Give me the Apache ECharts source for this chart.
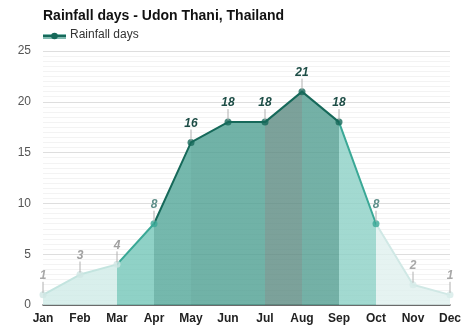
<!DOCTYPE html>
<html>
<head>
<meta charset="utf-8">
<script src="https://cdn.jsdelivr.net/npm/echarts@6/dist/echarts.min.js"></script>
<style>html,body{margin:0;padding:0;background:#fff}#c{width:474px;height:331px}</style>
</head>
<body>
<div id="c"></div>
<script>
const months = ['Jan','Feb','Mar','Apr','May','Jun','Jul','Aug','Sep','Oct','Nov','Dec'];
const rainfallDays = [1, 3, 4, 8, 16, 18, 18, 21, 18, 8, 2, 1];
const yTicks = [0, 5, 10, 15, 20, 25];

// styling palettes (per month)
const pointColors = ['#cfe6e3','#cfe6e3','#cfe6e3','#3aa896','#16695a','#16695a','#16695a','#16695a','#16695a','#3aa896','#d6ebe9','#d6ebe9'];
const labelColors = ['#a8a8a8','#a0a0a0','#a0a0a0','#5f8f8a','#1d4d46','#1d4d46','#1d4d46','#1d4d46','#1d4d46','#5f8f8a','#a8a8a8','#a8a8a8'];

const chart = echarts.init(document.getElementById('c'), null, {renderer:'canvas'});
const FONT = 'Arial, "Liberation Sans", sans-serif';

chart.setOption({
  animation: false,
  backgroundColor: '#fff',
  title: {
    text: 'Rainfall days - Udon Thani, Thailand',
    left: 43, top: 9, padding: 0,
    textStyle: {fontFamily: FONT, fontSize: 14, fontWeight: 'bold', color: '#111'}
  },
  graphic: [
    {type:'rect', left: 43, top: 34, shape:{width:23, height:5}, style:{fill:'#7fb9af'}},
    {type:'line', shape:{x1:43, y1:36, x2:66, y2:36}, style:{stroke:'#16695a', lineWidth:2}},
    {type:'circle', shape:{cx:54.5, cy:36, r:3.3}, style:{fill:'#16695a'}},
    {type:'text', left: 70, top: 29, style:{text:'Rainfall days', font:'12px ' + FONT, fill:'#333'}}
  ],
  grid: {left: 43, right: 24, top: 51, bottom: 26},
  xAxis: {
    type: 'category',
    data: months,
    boundaryGap: false,
    axisLine: {lineStyle: {color: '#444', width: 1.5}},
    axisTick: {show: false},
    axisLabel: {color: '#222', fontFamily: FONT, fontSize: 12, fontWeight: 'bold', margin: 8,
      interval: 0},
    splitLine: {show: false}
  },
  yAxis: {
    type: 'value',
    min: 0, max: 25, interval: 5,
    axisLine: {show: false},
    axisTick: {show: false},
    axisLabel: {color: '#555', fontFamily: FONT, fontSize: 12, margin: 12,
      formatter: v => yTicks.includes(v) ? String(v) : ''},
    splitLine: {lineStyle: {color: '#dedede', width: 1}},
    minorTick: {show: false, splitNumber: 10},
    minorSplitLine: {show: true, lineStyle: {color: '#f3f3f3', width: 1}}
  },
  visualMap: [
    {
      type: 'piecewise', show: false, dimension: 0, seriesIndex: 0,
      pieces: [
        {gte: 0, lt: 2, color: '#cfebe7'},
        {gte: 2, lt: 3, color: '#73c6b8'},
        {gte: 3, lt: 4, color: '#52a698'},
        {gte: 4, lt: 6, color: '#4d9f91'},
        {gte: 6, lt: 7, color: '#5b8a81'},
        {gte: 7, lt: 8, color: '#519d90'},
        {gte: 8, lt: 9, color: '#8bd0c5'},
        {gte: 9, lte: 11, color: '#dff0ee'}
      ]
    },
    {
      type: 'piecewise', show: false, dimension: 0, seriesIndex: 1,
      pieces: [
        {gte: 0, lt: 2, color: '#c3e4df'},
        {gte: 2, lt: 3, color: '#3aa896'},
        {gte: 3, lt: 8, color: '#16695a'},
        {gte: 8, lt: 9, color: '#3aa896'},
        {gte: 9, lte: 11, color: '#d0e8e5'}
      ]
    }
  ],
  series: [
    {
      name: 'area', type: 'line', data: rainfallDays, showSymbol: false, silent: true,
      lineStyle: {width: 0}, areaStyle: {opacity: 0.8}, z: 1
    },
    {
      name: 'Rainfall days', type: 'line', data: rainfallDays, showSymbol: false,
      lineStyle: {width: 2}, z: 3
    },
    {
      name: 'points', type: 'scatter', z: 4, symbolSize: 7,
      data: rainfallDays.map((v, i) => ({value: [i, v], itemStyle: {color: pointColors[i]}}))
    },
    {
      name: 'labels', type: 'custom', z: 5, silent: true,
      data: rainfallDays.map((v, i) => [i, v]),
      renderItem: function (params, api) {
        const i = params.dataIndex;
        const p = api.coord([api.value(0), api.value(1)]);
        return {
          type: 'group',
          children: [
            {type: 'line', shape: {x1: p[0], y1: p[1] - 2, x2: p[0], y2: p[1] - 13},
             style: {stroke: '#b0b0b0', lineWidth: 1}},
            {type: 'text', style: {
              text: String(rainfallDays[i]), x: p[0], y: p[1] - 19,
              align: 'center', verticalAlign: 'middle',
              font: 'italic bold 12px ' + FONT, fill: labelColors[i]
            }}
          ]
        };
      }
    }
  ]
});
</script>
</body>
</html>
